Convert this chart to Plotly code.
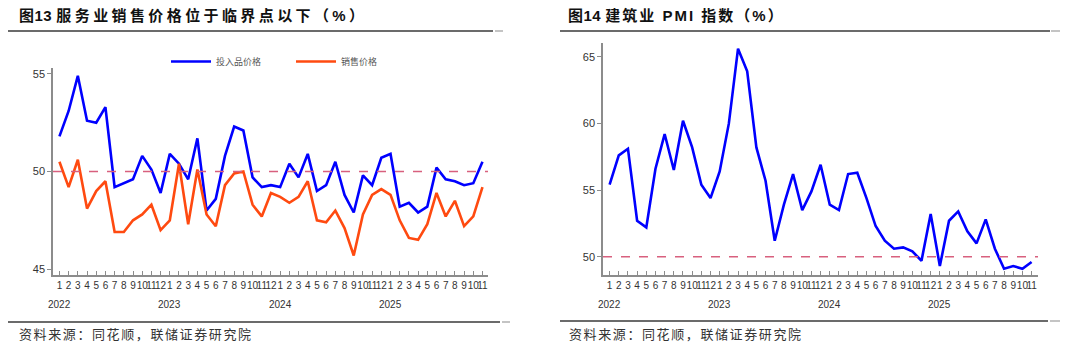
import plotly.graph_objects as go

# ---------------- data ----------------
month_ticks = [1, 2, 3, 4, 5, 6, 7, 8, 9, 10, 11, 12,
               1, 2, 3, 4, 5, 6, 7, 8, 9, 10, 11, 12,
               1, 2, 3, 4, 5, 6, 7, 8, 9, 10, 11, 12,
               1, 2, 3, 4, 5, 6, 7, 8, 9, 10, 11]
years = ["2022", "2023", "2024", "2025"]
year_start_index = [0, 12, 24, 36]

input_price = [51.8, 53.1, 54.9, 52.6, 52.5, 53.3, 49.2, 49.4, 49.6, 50.8, 50.1, 48.9,
               50.9, 50.4, 49.6, 51.7, 48.0, 48.6, 50.8, 52.3, 52.1, 49.7, 49.2, 49.3,
               49.2, 50.4, 49.7, 50.9, 49.0, 49.3, 50.5, 48.8, 47.9, 49.8, 49.3, 50.7,
               50.9, 48.2, 48.4, 47.9, 48.2, 50.2, 49.6, 49.5, 49.3, 49.4, 50.5]
sales_price = [50.5, 49.2, 50.6, 48.1, 49.0, 49.5, 46.9, 46.9, 47.5, 47.8, 48.3, 47.0,
               47.5, 50.4, 47.3, 50.1, 47.8, 47.2, 49.3, 49.9, 50.0, 48.3, 47.7, 48.9,
               48.7, 48.4, 48.7, 49.5, 47.5, 47.4, 48.0, 47.1, 45.7, 47.8, 48.8, 49.1,
               48.8, 47.5, 46.6, 46.5, 47.3, 48.9, 47.7, 48.5, 47.2, 47.7, 49.2]
construction_pmi = [55.4, 57.6, 58.1, 52.7, 52.2, 56.6, 59.2, 56.5, 60.2, 58.2, 55.4, 54.4,
                    56.4, 60.0, 65.6, 63.9, 58.2, 55.7, 51.2, 53.9, 56.2, 53.5, 54.9, 56.9,
                    53.9, 53.5, 56.2, 56.3, 54.4, 52.3, 51.2, 50.6, 50.7, 50.4, 49.7, 53.2,
                    49.3, 52.7, 53.4, 51.9, 51.0, 52.8, 50.6, 49.1, 49.3, 49.1, 49.6]

title_left = ("图13", "服务业销售价格位于临界点以下（%）")
title_right = ("图14", "建筑业 PMI 指数（%）")
source_text = "资料来源：同花顺，联储证券研究院"
threshold = 50

# ---------------- layout helpers ----------------
W, H = 1066, 348
def px(x):
    return x / W
def py(y):
    return 1 - y / H

FONT = "Liberation Sans, Arial, Noto Sans CJK SC, sans-serif"
CJK = "Noto Sans CJK SC, sans-serif"
BLUE = "#0000ff"
ORANGE = "#ff4a10"
DASH = "#d8607e"
AXIS = "#8c8c8c"
TXT = "#333333"

x_idx = list(range(len(month_ticks)))

fig = go.Figure()
fig.add_trace(go.Scatter(x=x_idx, y=input_price, mode="lines", name="投入品价格",
                         line=dict(color=BLUE, width=2.6), xaxis="x", yaxis="y"))
fig.add_trace(go.Scatter(x=x_idx, y=sales_price, mode="lines", name="销售价格",
                         line=dict(color=ORANGE, width=2.6), xaxis="x", yaxis="y"))
fig.add_trace(go.Scatter(x=x_idx, y=construction_pmi, mode="lines", name="建筑业PMI",
                         line=dict(color=BLUE, width=2.6), xaxis="x2", yaxis="y2",
                         showlegend=False))

xcommon = dict(tickmode="array", tickvals=x_idx, ticktext=[str(m) for m in month_ticks],
               ticks="inside", ticklen=4, tickcolor=AXIS, tickwidth=1,
               showline=True, linecolor=AXIS, linewidth=1.5, showgrid=False, zeroline=False,
               tickfont=dict(family=FONT, size=10, color=TXT), tickangle=0)
ycommon = dict(ticks="outside", ticklen=4, tickcolor=AXIS, tickwidth=1,
               showline=True, linecolor=AXIS, linewidth=1.5, showgrid=False, zeroline=False,
               tickfont=dict(family=FONT, size=11, color=TXT))

fig.update_layout(
    width=W, height=H, margin=dict(l=0, r=0, t=0, b=0),
    paper_bgcolor="white", plot_bgcolor="white",
    xaxis=dict(domain=[px(53), px(488)], range=[-0.7, 46.6], anchor="y", **xcommon),
    yaxis=dict(domain=[py(275), py(68)], range=[44.7, 55.3], anchor="x",
               tickvals=[45, 50, 55], **ycommon),
    xaxis2=dict(domain=[px(603), px(1038)], range=[-0.72, 46.7], anchor="y2", **xcommon),
    yaxis2=dict(domain=[py(275), py(42.7)], range=[48.63, 66.05], anchor="x2",
                tickvals=[50, 55, 60, 65], **ycommon),
    showlegend=True,
    legend=dict(orientation="h", x=px(166), y=py(47), xanchor="left", yanchor="top",
                font=dict(family=CJK, size=9, color="#555555"), bgcolor="rgba(0,0,0,0)",
                itemwidth=40, tracegroupgap=0, entrywidth=70, entrywidthmode="pixels"),
)

# threshold lines
for xr, yr in [("x domain", "y"), ("x2 domain", "y2")]:
    fig.add_shape(type="line", xref=xr, yref=yr, x0=0, x1=1, y0=threshold, y1=threshold,
                  line=dict(color=DASH, width=1.5, dash="dash"))

# header / footer rules
rules = [
    (8, 493, 31, "#3a3a3a"), (495, 503, 31, "#b0b0b0"),
    (560, 1050, 31, "#3a3a3a"), (1051, 1060, 31, "#b0b0b0"),
    (8, 500, 322, "#3a3a3a"), (502, 510, 322, "#b0b0b0"),
    (560, 1048, 321, "#3a3a3a"), (1050, 1060, 321, "#b0b0b0"),
]
for x0, x1, yy, c in rules:
    fig.add_shape(type="line", xref="paper", yref="paper", x0=px(x0), x1=px(x1),
                  y0=py(yy), y1=py(yy), line=dict(color=c, width=1.5))

# titles
def spaced(t, sp):
    return f'<span style="letter-spacing:{sp}px">{t}</span>'

fig.add_annotation(xref="paper", yref="paper", x=px(17), y=py(15), xanchor="left",
                   yanchor="middle", showarrow=False,
                   text="<b>" + spaced(title_left[0], 0.5) + " " + spaced(title_left[1], 3.4) + "</b>",
                   font=dict(family=FONT, size=15, color="#111111"))
fig.add_annotation(xref="paper", yref="paper", x=px(566), y=py(15), xanchor="left",
                   yanchor="middle", showarrow=False,
                   text="<b>" + spaced(title_right[0], 0.5) + " " + spaced(title_right[1], 2.0) + "</b>",
                   font=dict(family=FONT, size=15, color="#111111"))

# source
for x0 in (17, 567):
    fig.add_annotation(xref="paper", yref="paper", x=px(x0), y=py(333), xanchor="left",
                       yanchor="middle", showarrow=False,
                       text=spaced(source_text, 1.6),
                       font=dict(family=CJK, size=13, color="#333333"))

# year labels
for xa in ("x", "x2"):
    for yr, idx in zip(years, year_start_index):
        fig.add_annotation(xref=xa, yref="paper", x=idx, y=py(304), xanchor="center",
                           yanchor="middle", showarrow=False, text=yr,
                           font=dict(family=FONT, size=10, color=TXT))

fig.write_html("out.html")
